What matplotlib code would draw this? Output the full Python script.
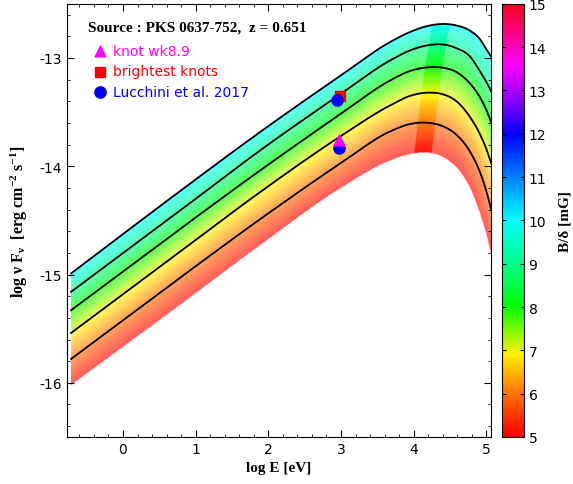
import numpy as np
import matplotlib
matplotlib.use('Agg')
import matplotlib.pyplot as plt
import matplotlib.colors as mcolors

# log E [eV] positions where the model curves were read
log_e = [-0.715, 0.784, 1.884, 3.0, 3.67, 3.95, 4.22, 4.40, 4.59, 4.78, 4.91, 5.0, 5.06]

# B/delta [mG] of each curve, and log nuFnu read along log_e
b_values = [5, 6, 7, 8, 9, 10]
sed_b5 = [-16.02, -15.28, -14.73, -14.20, -13.95, -13.89, -13.88, -13.92, -14.02, -14.22, -14.45, -14.65, -14.82]
sed_b6 = [-15.78, -15.03, -14.49, -13.97, -13.68, -13.61, -13.60, -13.63, -13.71, -13.87, -14.05, -14.23, -14.38]
sed_b7 = [-15.54, -14.79, -14.24, -13.72, -13.44, -13.35, -13.32, -13.335, -13.40, -13.55, -13.70, -13.84, -13.96]
sed_b8 = [-15.33, -14.58, -14.04, -13.515, -13.21, -13.12, -13.085, -13.09, -13.13, -13.24, -13.36, -13.48, -13.58]
sed_b9 = [-15.16, -14.41, -13.855, -13.33, -13.025, -12.93, -12.88, -12.875, -12.91, -12.99, -13.12, -13.22, -13.30]
sed_b10 = [-14.99, -14.23, -13.685, -13.16, -12.855, -12.76, -12.70, -12.686, -12.70, -12.75, -12.825, -12.92, -12.98]
curves = [sed_b5, sed_b6, sed_b7, sed_b8, sed_b9, sed_b10]
lined_b = [6, 7, 8, 9, 10]   # curves drawn in black

# observed points
knot_x, knot_y = [2.975], [-13.76]
bright_x, bright_y = [2.985], [-13.35]
lucchini_x, lucchini_y = [2.95, 2.975], [-13.385, -13.83]


def smooth(xk, yk, x):
    # cubic hermite through the read points
    xk = np.asarray(xk, float)
    yk = np.asarray(yk, float)
    m = np.gradient(yk, xk)
    i = np.clip(np.searchsorted(xk, x) - 1, 0, len(xk) - 2)
    h = xk[i + 1] - xk[i]
    t = (x - xk[i]) / h
    return ((2*t**3 - 3*t**2 + 1) * yk[i] + (t**3 - 2*t**2 + t) * h * m[i]
            + (-2*t**3 + 3*t**2) * yk[i + 1] + (t**3 - t**2) * h * m[i + 1])


cmap = mcolors.LinearSegmentedColormap.from_list('bdelta', [
    (0.00, (1.0, 0.0, 0.0)),
    (0.10, (1.0, 0.45, 0.0)),
    (0.19, (1.0, 0.95, 0.0)),
    (0.30, (0.0, 1.0, 0.0)),
    (0.40, (0.0, 1.0, 0.55)),
    (0.50, (0.0, 1.0, 1.0)),
    (0.60, (0.0, 0.5, 1.0)),
    (0.70, (0.0, 0.0, 1.0)),
    (0.78, (0.55, 0.0, 1.0)),
    (0.86, (1.0, 0.0, 1.0)),
    (0.93, (1.0, 0.0, 0.55)),
    (1.00, (1.0, 0.0, 0.1)),
])
norm = mcolors.Normalize(5, 15)

fig = plt.figure(figsize=(5.73, 4.85), dpi=100)
ax = fig.add_axes([0.117, 0.097, 0.740, 0.893])
cax = fig.add_axes([0.876, 0.097, 0.038, 0.893])

XMIN, XMAX, YMIN, YMAX = -0.77, 5.065, -16.5, -12.5

# gradient band
xg = np.linspace(log_e[0], XMAX, 700)
yg = np.linspace(YMIN, YMAX, 900)
cy = np.array([smooth(log_e, c, xg) for c in curves])   # (6, nx)
rgba = np.zeros((len(yg), len(xg), 4))
for j in range(len(xg)):
    col = cy[:, j]
    bb = np.interp(yg, col, b_values)
    inside = (yg >= col[0]) & (yg <= col[-1])
    c = cmap(norm(bb))
    center = 4.12 + (bb - 5) * 0.05
    strong = np.abs(xg[j] - center) < 0.12
    a = np.where(strong, 0.92, 0.64)[:, None]
    c[:, :3] = c[:, :3] * a + (1 - a)
    c[:, 3] = inside
    rgba[:, j] = c
ax.imshow(rgba, extent=[xg[0], xg[-1], YMIN, YMAX], origin='lower',
          aspect='auto', interpolation='bilinear', zorder=1)

xs = np.linspace(log_e[0], XMAX, 500)
for b, c in zip(b_values, curves):
    if b in lined_b:
        ax.plot(xs, smooth(log_e, c, xs), color='black', lw=1.3, zorder=2)

sq = ax.scatter(bright_x, bright_y, marker='s', s=60, color='red', zorder=3)
ci = ax.scatter(lucchini_x, lucchini_y, marker='o', s=65, color='blue', zorder=4)
tr = ax.scatter(knot_x, knot_y, marker='^', s=60, color='magenta', zorder=5)

ax.set_xlim(XMIN, XMAX)
ax.set_ylim(YMIN, YMAX)
ax.set_xticks(range(0, 6))
ax.set_yticks([-16, -15, -14, -13])
ax.set_yticklabels(['-16', '-15', '-14', '-13'])
ax.xaxis.set_minor_locator(matplotlib.ticker.MultipleLocator(0.2))
ax.yaxis.set_minor_locator(matplotlib.ticker.MultipleLocator(0.2))
ax.tick_params(which='both', direction='in', top=True, right=True, labelsize=10)
ax.tick_params(which='major', length=5)
ax.tick_params(which='minor', length=2.5)

plt.rcParams['mathtext.default'] = 'regular'
ax.set_xlabel('log E [eV]', family='Liberation Serif', weight='bold', fontsize=11, labelpad=4)
ax.set_ylabel(r'log ν F$_{ν}$  [erg cm$^{-2}$ s$^{-1}$]', family='Liberation Serif',
              weight='bold', fontsize=11.5, labelpad=7)

ax.text(0.05, 0.947, 'Source : PKS 0637-752,  z = 0.651', transform=ax.transAxes,
        family='Liberation Serif', weight='bold', fontsize=11, va='center', ha='left')

ax.legend([tr, sq, ci], ['knot wk8.9', 'brightest knots', 'Lucchini et al. 2017'],
          loc='upper left', bbox_to_anchor=(0.045, 0.92), frameon=False, fontsize=10,
          labelcolor=['magenta', 'red', 'blue'], handletextpad=0.3, labelspacing=0.45,
          borderaxespad=0, handlelength=1.2, scatterpoints=1)

sm = matplotlib.cm.ScalarMappable(norm=norm, cmap=cmap)
cb = fig.colorbar(sm, cax=cax, ticks=range(5, 16))
cax.tick_params(direction='in', left=True, right=True, length=3, labelsize=10)
cax.set_ylabel('B/δ [mG]', family='Liberation Serif', weight='bold', fontsize=11, labelpad=9)

fig.savefig('out.png', dpi=100)
